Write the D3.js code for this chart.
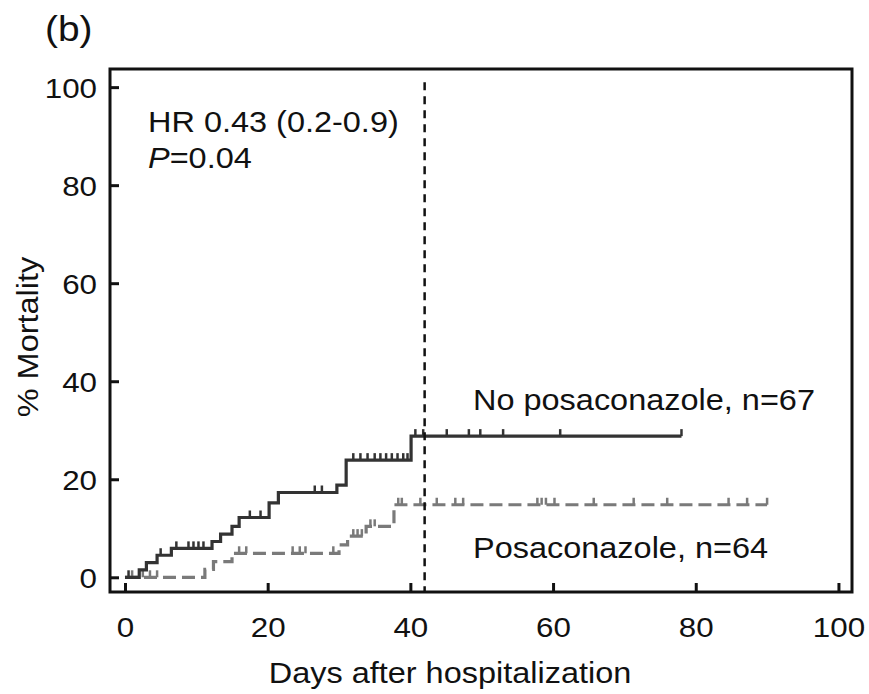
<!DOCTYPE html>
<html>
<head>
<meta charset="utf-8">
<script src="https://d3js.org/d3.v7.min.js"></script>
<style>
body { margin:0; background:#fff; }
svg { font-family:"Liberation Sans", Arial, sans-serif; }
.tick text { font-size:28px; fill:#111; }
.label { font-size:29px; fill:#111; }
</style>
</head>
<body>
<svg></svg>
<script>

//x and y tick values
var xTicks = [0,20,40,60,80,100];
var yTicks = [0,20,40,60,80,100];

//No posaconazole: [day, % mortality] at each step
var noPosaSteps = [[0,0],[2,1.5],[3,3.0],[4.5,4.5],[6.5,5.9],[12.2,7.3],[13.4,8.8],
                   [15,10.4],[16,12.2],[20.2,15.2],[21.5,17.3],[29.7,18.8],[31,23.9],[40.1,28.8]];
var noPosaEnd = 78;
var noPosaCensor = [0.5,5,7.2,8.9,9.6,10.3,11.0,17.5,19,26.6,27.6,32,33,34,35,35.8,36.6,
                    37.4,38.2,39,39.6,40.7,41.8,45.1,48.2,49.8,53,61,78];

//Posaconazole
var posaSteps = [[0,0],[11.2,1.6],[12.4,3.2],[15,4.9],[30,6.6],[31.2,8.4],[33.8,10.4],[37.7,14.8]];
var posaEnd = 90;
var posaCensor = [1,2.5,3.5,4.5,16,17,23.5,24.5,25.3,29.2,32,32.6,33.2,34.4,35,38.3,38.8,
                  41.4,43.7,46.3,47.4,57.8,58.4,59,60.2,65.7,71.3,76,84.6,87.2,90];

var landmarkDay = 42;

//the original lettering is a bit wider than Liberation Sans
var stretch = 1.12;

//value of a step curve at a given day
var stepValue = function(steps,day)
{
    var v = 0;
    steps.forEach(function(s)
    {
        if(s[0]<=day) { v = s[1]; }
    })
    return v;
}

var drawCurve = function(target,steps,end,censor,xScale,yScale,color,dash)
{
    var pts = steps.concat([[end,steps[steps.length-1][1]]]);
    var line = d3.line()
        .x(function(d){ return xScale(d[0]); })
        .y(function(d){ return yScale(d[1]); })
        .curve(d3.curveStepAfter);

    target.append("path")
        .datum(pts)
        .attr("d",line)
        .attr("fill","none")
        .attr("stroke",color)
        .attr("stroke-width",3.2)
        .attr("stroke-dasharray",dash);

    target.selectAll(null)
        .data(censor)
        .enter()
        .append("line")
        .attr("x1",function(d){ return xScale(d); })
        .attr("x2",function(d){ return xScale(d); })
        .attr("y1",function(d){ return yScale(stepValue(steps,d)); })
        .attr("y2",function(d){ return yScale(stepValue(steps,d))-7; })
        .attr("stroke",color)
        .attr("stroke-width",2.5);
}

var drawAxes = function(svg,plot,xScale,yScale)
{
    var xAxis = d3.axisBottom(xScale)
        .tickValues(xTicks)
        .tickSizeInner(-9)
        .tickSizeOuter(0)
        .tickPadding(25);
    var yAxis = d3.axisLeft(yScale)
        .tickValues(yTicks)
        .tickSizeInner(-9)
        .tickSizeOuter(0)
        .tickPadding(13);

    var gx = svg.append("g")
        .attr("transform","translate(0,"+plot.bottom+")")
        .call(xAxis);
    var gy = svg.append("g")
        .attr("transform","translate("+plot.left+",0)")
        .call(yAxis);

    [gx,gy].forEach(function(g)
    {
        g.select(".domain").remove();
        g.selectAll(".tick line").attr("stroke","#111").attr("stroke-width",3);
        g.selectAll(".tick text").attr("font-family",null).attr("font-size",null);
    })
    gy.selectAll(".tick text").attr("dy","0.36em")
        .attr("x",-13/stretch)
        .attr("transform","scale("+stretch+",1)");
    gx.selectAll(".tick text")
        .attr("transform","scale("+stretch+",1)");

    //frame
    svg.append("rect")
        .attr("x",plot.left)
        .attr("y",plot.top)
        .attr("width",plot.right-plot.left)
        .attr("height",plot.bottom-plot.top)
        .attr("fill","none")
        .attr("stroke","#111")
        .attr("stroke-width",3);
}

var addLabel = function(svg,str,x,y,anchor)
{
    return svg.append("text")
        .classed("label",true)
        .text(str)
        .attr("text-anchor",anchor)
        .attr("transform","translate("+x+","+y+") scale("+stretch+",1)");
}

var drawLabels = function(svg,plot)
{
    svg.append("text")
        .text("(b)")
        .attr("font-size",36)
        .attr("fill","#111")
        .attr("transform","translate(45,41) scale(1.08,1)");

    addLabel(svg,"HR 0.43 (0.2-0.9)",148,132,"start");

    var p = addLabel(svg,"",148,168,"start");
    p.append("tspan").attr("font-style","italic").text("P");
    p.append("tspan").text("=0.04");

    addLabel(svg,"No posaconazole, n=67",473,410,"start");
    addLabel(svg,"Posaconazole, n=64",473,558,"start");
    addLabel(svg,"Days after hospitalization",450,683,"middle");

    svg.append("g")
        .attr("transform","translate(38,337) rotate(-90)")
        .append("text").classed("label",true)
        .text("% Mortality")
        .attr("text-anchor","middle")
        .attr("transform","scale("+stretch+",1)");
}

var initGraph = function()
{
    var screen = {width:869,height:694};
    var plot = {left:110,right:852,top:69,bottom:592};

    var svg = d3.select("svg")
        .attr("width",screen.width)
        .attr("height",screen.height);

    var xScale = d3.scaleLinear()
        .domain([-2.1,101.9])
        .range([plot.left,plot.right]);
    var yScale = d3.scaleLinear()
        .domain([-3.0,103.7])
        .range([plot.bottom,plot.top]);

    var target = svg.append("g");

    drawCurve(target,posaSteps,posaEnd,posaCensor,xScale,yScale,"#7a7a7a","13,6");
    drawCurve(target,noPosaSteps,noPosaEnd,noPosaCensor,xScale,yScale,"#333333",null);

    //landmark dashed line
    target.append("line")
        .attr("x1",xScale(landmarkDay))
        .attr("x2",xScale(landmarkDay))
        .attr("y1",yScale(101))
        .attr("y2",plot.bottom)
        .attr("stroke","#111")
        .attr("stroke-width",2.5)
        .attr("stroke-dasharray","8,6");

    drawAxes(svg,plot,xScale,yScale);
    drawLabels(svg,plot);
}

initGraph();
</script>
</body>
</html>
